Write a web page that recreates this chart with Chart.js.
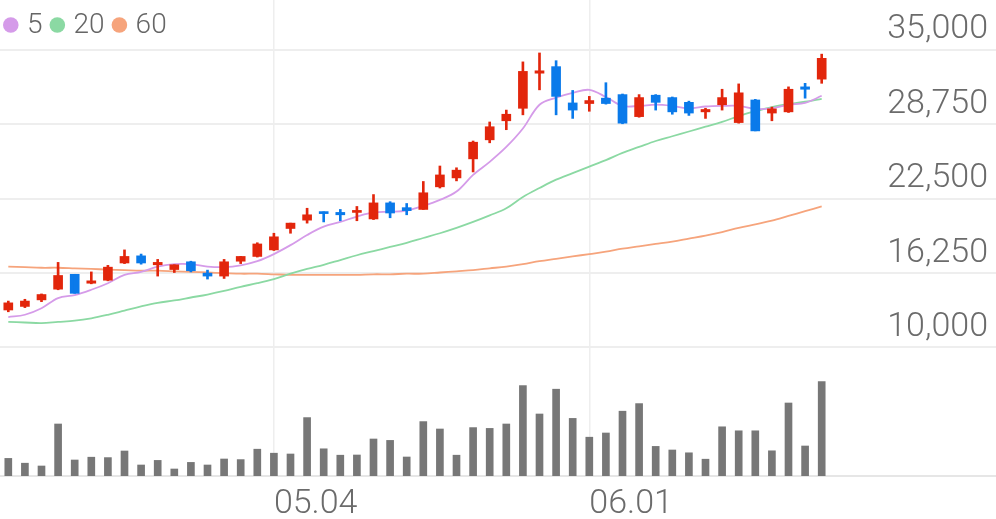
<!DOCTYPE html>
<html>
<head>
<meta charset="utf-8">
<script src="https://cdn.jsdelivr.net/npm/chart.js@4.4.1/dist/chart.umd.min.js"></script>
<style>
  html, body { margin: 0; padding: 0; background: #fff; }
  #wrap { width: 996px; height: 519px; position: relative; }
</style>
</head>
<body>
<div id="wrap"><canvas id="chart"></canvas></div>
<script>
// Daily candles + moving averages + volume

const dates = [
  '04.07', '04.08', '04.09', '04.10', '04.13', '04.14', '04.16', '04.17', '04.20', '04.21',
  '04.22', '04.23', '04.24', '04.27', '04.28', '04.29', '05.04', '05.06', '05.07', '05.08',
  '05.11', '05.12', '05.13', '05.14', '05.15', '05.18', '05.19', '05.20', '05.21', '05.22',
  '05.25', '05.26', '05.27', '05.28', '05.29', '06.01', '06.02', '06.03', '06.04', '06.05',
  '06.08', '06.09', '06.10', '06.11', '06.12', '06.15', '06.16', '06.17', '06.18', '06.19'
];
const opens = [
  13150, 13450, 14000, 14900, 16150, 15400, 15650, 17100, 17700, 16950,
  16550, 17200, 16250, 16000, 17250, 17650, 18200, 20000, 20700, 21400,
  21350, 21350, 20800, 22150, 21750, 21600, 23500, 24250, 25850, 27450,
  29050, 30100, 33050, 33600, 30550, 30500, 30950, 31250, 29400, 31200,
  31000, 30600, 29800, 30400, 28900, 30800, 29700, 29800, 31900, 32550
];
const highs = [
  13900, 14050, 14500, 17150, 16150, 16350, 16900, 18200, 17850, 17400,
  16950, 17250, 16500, 17400, 17650, 18800, 19600, 20450, 21700, 21400,
  21600, 21850, 22850, 22250, 22100, 23950, 25250, 25100, 27350, 28950,
  29950, 34000, 34750, 34100, 31600, 31100, 32250, 31300, 31250, 31250,
  31050, 30700, 30100, 31700, 32150, 30850, 30200, 31900, 32200, 34650
];
const lows = [
  13000, 13350, 13850, 14850, 14550, 15350, 15600, 17050, 17000, 16000,
  16300, 16350, 15750, 15800, 17050, 17600, 18150, 19600, 20450, 20550,
  20650, 20650, 20750, 20900, 21150, 21600, 23400, 24000, 24750, 27200,
  28300, 29550, 31650, 29550, 29250, 29850, 30450, 28800, 29350, 29950,
  29600, 29500, 29250, 29950, 28850, 28200, 29050, 29750, 30950, 32200
];
const closes = [
  13750, 13900, 14450, 16050, 14550, 15600, 16750, 17650, 17100, 17150,
  16950, 16450, 16000, 17200, 17650, 18700, 19300, 20450, 21150, 21250,
  21150, 21450, 22150, 21300, 21500, 23000, 24500, 24900, 27250, 28550,
  29600, 33200, 33250, 31100, 29950, 30750, 30500, 28850, 31000, 30600,
  29800, 29700, 30000, 31000, 31400, 28200, 30050, 31700, 31700, 34300
];
const volumes = [
  440000, 320000, 250000, 1300000, 400000, 470000, 460000, 625000, 275000, 390000,
  175000, 340000, 275000, 425000, 410000, 670000, 570000, 550000, 1460000, 680000,
  520000, 525000, 925000, 890000, 475000, 1360000, 1175000, 520000, 1210000, 1190000,
  1300000, 2260000, 1550000, 2170000, 1440000, 970000, 1075000, 1620000, 1810000, 740000,
  650000, 580000, 420000, 1230000, 1130000, 1130000, 630000, 1825000, 750000, 2360000
];
const ma5 = [
  12550, 12750, 13300, 14150, 14400, 14850, 15400, 16100, 16350, 16800,
  17000, 17000, 16800, 16750, 16900, 17250, 17850, 18600, 19450, 20150,
  20550, 21000, 21350, 21400, 21500, 21900, 22400, 23100, 24500, 25600,
  26850, 28400, 30400, 31000, 31400, 31650, 31050, 30300, 30300, 30400,
  30300, 30100, 30250, 30300, 30300, 30050, 30100, 30400, 30550, 31150
];
const ma20 = [
  12150, 12100, 12050, 12150, 12250, 12450, 12750, 13100, 13450, 13750,
  13950, 14200, 14450, 14750, 15100, 15400, 15750, 16200, 16600, 16950,
  17350, 17750, 18100, 18450, 18800, 19200, 19600, 20050, 20550, 21100,
  21700, 22650, 23400, 24100, 24650, 25200, 25750, 26350, 26850, 27350,
  27750, 28150, 28550, 28950, 29450, 29850, 30200, 30450, 30650, 30900
];
const ma60 = [
  16800, 16750, 16700, 16700, 16650, 16600, 16550, 16500, 16450, 16450,
  16400, 16350, 16300, 16250, 16200, 16200, 16150, 16100, 16100, 16100,
  16100, 16100, 16150, 16150, 16200, 16200, 16300, 16400, 16500, 16650,
  16800, 17000, 17250, 17450, 17650, 17850, 18050, 18300, 18500, 18700,
  18900, 19150, 19400, 19700, 20050, 20350, 20650, 21050, 21450, 21850
];
const priceTicks = [10000, 16250, 22500, 28750, 35000];
const xTickLabels = ['05.04', '06.01'];
const emptySlots = 10; // blank room right of the last candle

const UP = '#e2260c';
const DOWN = '#0a7aea';
const candleColor = ctx => closes[ctx.dataIndex] >= opens[ctx.dataIndex] ? UP : DOWN;
const labelFont = { family: 'Roboto', size: 34, weight: 300 };

const labels = dates.concat(Array(emptySlots).fill(''));

// small inline legend: dot + label for each MA line, in one row at top-left
const maLegend = {
  id: 'maLegend',
  afterDraw(chart) {
    const ctx = chart.ctx;
    const y = chart.chartArea.top + 25;
    let x = chart.chartArea.left + 3;
    ctx.save();
    ctx.font = '300 28px Roboto';
    ctx.textBaseline = 'middle';
    chart.data.datasets.filter(d => d.type === 'line').forEach(d => {
      ctx.fillStyle = d.borderColor;
      ctx.beginPath();
      ctx.arc(x + 7.8, y, 7.8, 0, Math.PI * 2);
      ctx.fill();
      x += 24;
      ctx.fillStyle = '#666666';
      ctx.fillText(d.label, x, y + 1);
      x += ctx.measureText(d.label).width + 7;
    });
    ctx.restore();
  }
};

new Chart(document.getElementById('chart'), {
  type: 'bar',
  data: {
    labels: labels,
    datasets: [
      {
        label: 'wick',
        data: lows.map((l, i) => [l, highs[i]]),
        backgroundColor: candleColor,
        barThickness: 2,
        grouped: false,
        order: 0
      },
      {
        label: 'body',
        data: opens.map((o, i) => [o, closes[i]]),
        backgroundColor: candleColor,
        barThickness: 9,
        minBarLength: 2,
        grouped: false,
        order: 0
      },
      {
        type: 'line', label: '5', data: ma5,
        borderColor: '#d59be9', backgroundColor: '#d59be9',
        borderWidth: 1.8, pointRadius: 0, tension: 0.35, order: 1
      },
      {
        type: 'line', label: '20', data: ma20,
        borderColor: '#8bd9a3', backgroundColor: '#8bd9a3',
        borderWidth: 1.8, pointRadius: 0, tension: 0.35, order: 1
      },
      {
        type: 'line', label: '60', data: ma60,
        borderColor: '#f6a47c', backgroundColor: '#f6a47c',
        borderWidth: 1.8, pointRadius: 0, tension: 0.35, order: 1
      },
      {
        label: 'volume',
        data: volumes,
        yAxisID: 'yVol',
        backgroundColor: '#777777',
        barThickness: 7,
        grouped: false,
        order: 2
      }
    ]
  },
  options: {
    responsive: true,
    maintainAspectRatio: false,
    animation: false,
    layout: { padding: 0 },
    plugins: {
      tooltip: { enabled: false },
      legend: { display: false }
    },
    scales: {
      x: {
        offset: true,
        afterFit: s => { s.height = 43; s.paddingLeft = 0; s.paddingRight = 0; },
        grid: {
          offset: false,
          drawTicks: false,
          lineWidth: 1.5,
          color: ctx => (ctx.tick && ctx.tick.label) ? '#eeeeee' : 'rgba(0,0,0,0)'
        },
        border: { display: true, color: '#e6e6e6', width: 2 },
        ticks: {
          autoSkip: false,
          maxRotation: 0,
          align: 'start',
          padding: 8,
          color: '#6b6b6b',
          font: labelFont,
          callback: function (value) {
            const l = this.getLabelForValue(value);
            return xTickLabels.includes(l) ? l : '';
          }
        }
      },
      y: {
        position: 'right',
        min: -800,
        max: 39200,
        afterBuildTicks: s => { s.ticks = priceTicks.map(v => ({ value: v })); },
        afterFit: s => { s.width = 0; s.paddingTop = 0; s.paddingBottom = 0; },
        grid: { color: '#eeeeee', lineWidth: 2, drawTicks: false },
        border: { display: false },
        ticks: {
          mirror: true,
          padding: -8,
          labelOffset: -20,
          color: '#6b6b6b',
          font: labelFont,
          callback: v => v.toLocaleString('en-US')
        }
      },
      yVol: {
        display: false,
        min: 0,
        max: 11900000
      }
    }
  },
  plugins: [maLegend]
});
</script>
</body>
</html>
